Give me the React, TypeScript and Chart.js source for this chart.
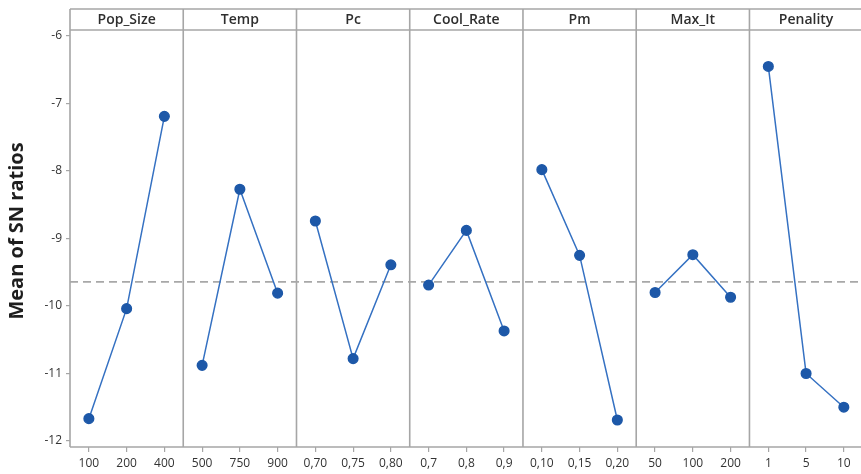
import React, { useEffect, useRef } from "react";
import { Chart, registerables } from "chart.js";

Chart.register(...registerables);

// Factors shown as side-by-side panels
const factors = ["Pop_Size", "Temp", "Pc", "Cool_Rate", "Pm", "Max_It", "Penality"];

// Levels of each factor (x tick labels)
const popSizeLevels = ["100", "200", "400"];
const tempLevels = ["500", "750", "900"];
const pcLevels = ["0,70", "0,75", "0,80"];
const coolRateLevels = ["0,7", "0,8", "0,9"];
const pmLevels = ["0,10", "0,15", "0,20"];
const maxItLevels = ["50", "100", "200"];
const penalityLevels = ["1", "5", "10"];

// Mean of SN ratios at each level
const popSizeSN = [-11.67, -10.04, -7.19];
const tempSN = [-10.88, -8.27, -9.81];
const pcSN = [-8.74, -10.78, -9.39];
const coolRateSN = [-9.69, -8.88, -10.37];
const pmSN = [-7.98, -9.25, -11.69];
const maxItSN = [-9.8, -9.24, -9.87];
const penalitySN = [-6.45, -11.0, -11.5];

// Y axis ticks
const yTickValues = [-12, -11, -10, -9, -8, -7, -6];
const yTitle = "Mean of SN ratios";

const levelLabels = [popSizeLevels, tempLevels, pcLevels, coolRateLevels, pmLevels, maxItLevels, penalityLevels];
const seriesValues = [popSizeSN, tempSN, pcSN, coolRateSN, pmSN, maxItSN, penalitySN];

const LEVELS = 3;
const HEADER_H = 21;
const BORDER = "#a6a6a6";
const TEXT = "#333333";
const FONT = "'Open Sans', 'Noto Sans', sans-serif";

const allValues = seriesValues.flat();
const grandMean = allValues.reduce((a, b) => a + b, 0) / allValues.length;

const xTickPositions: number[] = [];
factors.forEach((_, f) => {
  for (let i = 0; i < LEVELS; i++) xTickPositions.push(f * LEVELS + i + 0.5);
});

// Panel frames, header strips, factor names and the y axis title
const panelPlugin = {
  id: "panelFrames",
  beforeDatasetsDraw(chart: any) {
    const { ctx, chartArea, scales } = chart;
    const x = scales.x;
    const top = chartArea.top - HEADER_H;
    ctx.save();
    ctx.strokeStyle = BORDER;
    ctx.lineWidth = 1.6;
    ctx.beginPath();
    ctx.moveTo(chartArea.left, top);
    ctx.lineTo(chartArea.right, top);
    ctx.moveTo(chartArea.left, chartArea.top);
    ctx.lineTo(chartArea.right, chartArea.top);
    ctx.moveTo(chartArea.left, chartArea.bottom);
    ctx.lineTo(chartArea.right, chartArea.bottom);
    for (let p = 0; p <= factors.length; p++) {
      const px = x.getPixelForValue(p * LEVELS);
      ctx.moveTo(px, top);
      ctx.lineTo(px, chartArea.bottom);
    }
    ctx.stroke();

    ctx.fillStyle = "#2e2e2e";
    ctx.font = `600 14px ${FONT}`;
    ctx.textAlign = "center";
    ctx.textBaseline = "middle";
    factors.forEach((name, f) => {
      const cx = x.getPixelForValue(f * LEVELS + LEVELS / 2);
      ctx.fillText(name, cx, top + HEADER_H / 2 + 0.5);
    });

    // rotated y title, centred on the whole framed block
    ctx.save();
    ctx.translate(17, (top + chartArea.bottom) / 2 + 3);
    ctx.rotate(-Math.PI / 2);
    ctx.fillStyle = "#1e1e1e";
    ctx.font = `bold 20px ${FONT}`;
    ctx.fillText(yTitle, 0, 0);
    ctx.restore();
    ctx.restore();
  },
};

export default function App() {
  const canvasRef = useRef<HTMLCanvasElement | null>(null);

  useEffect(() => {
    const canvas = canvasRef.current;
    if (!canvas) return;

    const factorSets = factors.map((name, f) => ({
      label: name,
      data: seriesValues[f].map((v, i) => ({ x: f * LEVELS + i + 0.5, y: v })),
      borderColor: "#3571c2",
      borderWidth: 1.5,
      backgroundColor: "#1d58a8",
      pointBackgroundColor: "#1d58a8",
      pointBorderColor: "#1d58a8",
      pointRadius: 4.8,
      pointHoverRadius: 4.8,
      tension: 0,
    }));

    const meanSet = {
      label: "mean",
      data: [
        { x: 0, y: grandMean },
        { x: factors.length * LEVELS, y: grandMean },
      ],
      borderColor: "#a8a8a8",
      borderWidth: 1.6,
      borderDash: [8, 5],
      pointRadius: 0,
      tension: 0,
    };

    const chart = new Chart(canvas, {
      type: "line",
      data: { datasets: [...factorSets, meanSet] as any },
      plugins: [panelPlugin],
      options: {
        responsive: false,
        animation: false,
        devicePixelRatio: 1,
        layout: { padding: { top: 30, right: 2, left: 0, bottom: 0 } },
        plugins: {
          legend: { display: false },
          tooltip: { enabled: false },
        },
        scales: {
          x: {
            type: "linear",
            min: 0,
            max: factors.length * LEVELS,
            afterBuildTicks: (scale: any) => {
              scale.ticks = xTickPositions.map((v) => ({ value: v }));
            },
            afterFit: (scale: any) => {
              scale.height = 27;
            },
            ticks: {
              autoSkip: false,
              maxRotation: 0,
              padding: 4,
              color: TEXT,
              font: { family: FONT, size: 12 },
              callback: (value: any) => {
                const idx = Math.round(Number(value) - 0.5);
                const f = Math.floor(idx / LEVELS);
                return levelLabels[f] ? levelLabels[f][idx % LEVELS] : "";
              },
            },
            grid: { drawOnChartArea: false, drawTicks: true, tickLength: 5, color: BORDER, lineWidth: 1.2 },
            border: { display: false },
          },
          y: {
            type: "linear",
            min: -12.09,
            max: -5.91,
            afterBuildTicks: (scale: any) => {
              scale.ticks = yTickValues.map((v) => ({ value: v }));
            },
            afterFit: (scale: any) => {
              scale.width = 70;
            },
            ticks: {
              padding: 4,
              color: TEXT,
              font: { family: FONT, size: 12 },
              callback: (value: any) => String(value),
            },
            grid: { drawOnChartArea: false, drawTicks: true, tickLength: 4, color: BORDER, lineWidth: 1.2 },
            border: { display: false },
          },
        },
      } as any,
    });

    return () => chart.destroy();
  }, []);

  return (
    <div style={{ position: "absolute", left: 0, top: 0, width: 861, height: 474, overflow: "hidden", background: "#fff" }}>
      <canvas ref={canvasRef} width={869} height={474} style={{ display: "block", width: 869, height: 474 }} />
    </div>
  );
}
